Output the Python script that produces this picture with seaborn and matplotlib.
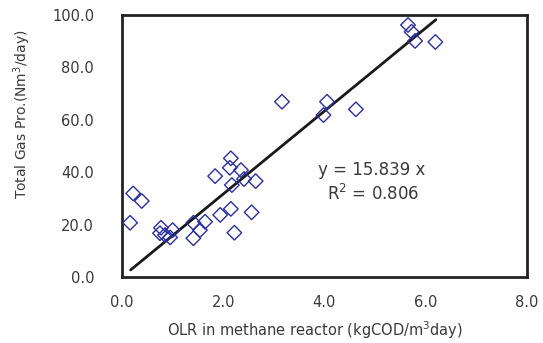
import numpy as np
import pandas as pd
import matplotlib
matplotlib.use("Agg")
import matplotlib.pyplot as plt
import seaborn as sns

olr = [5.65, 5.72, 5.79, 6.19, 3.16, 4.05, 3.98, 4.62, 2.15, 2.13, 2.35, 1.84,
       2.17, 2.41, 2.64, 0.22, 0.39, 0.16, 1.94, 2.15, 2.56, 2.22, 0.77, 0.75,
       0.85, 0.95, 1.00, 1.41, 1.64, 1.54, 1.41]
gas = [96.2, 93.6, 90.1, 89.7, 66.9, 66.9, 61.8, 64.0, 45.3, 41.7, 40.8, 38.5,
       35.1, 37.4, 36.6, 31.9, 29.0, 20.7, 23.7, 26.0, 24.7, 16.9, 18.8, 16.7,
       16.0, 15.1, 17.9, 20.7, 21.1, 17.9, 14.8]
slope = 15.839
fit_x = [0.17, 6.2]
fit_y = [slope * v for v in fit_x]
xticks = [0, 2, 4, 6, 8]
yticks = [0, 20, 40, 60, 80, 100]

sns.set_theme(style="white")
plt.rcParams['font.family'] = ['DejaVu Sans']
txtc = "#3a3a3a"

fig = plt.figure(figsize=(5.43, 3.43), dpi=100)
ax = fig.add_axes([0.2247, 0.1924, 0.7458, 0.7639])

df = pd.DataFrame({"x": olr, "y": gas})
sns.scatterplot(data=df, x="x", y="y", ax=ax, marker="D", s=55,
                facecolor="none", edgecolor="#2b2f9c", linewidth=1.0, zorder=3)
sns.lineplot(x=fit_x, y=fit_y, ax=ax, color="#1a1a1a", linewidth=2.0, zorder=2)

ax.set_xlim(0, 8)
ax.set_ylim(0, 100)
ax.set_xticks(xticks)
ax.set_yticks(yticks)
ax.set_xticklabels([f"{v:.1f}" for v in xticks], color=txtc, fontsize=10.5)
ax.set_yticklabels([f"{v:.1f}" for v in yticks], color=txtc, fontsize=10.5)
ax.tick_params(axis="x", direction="in", length=5, width=1.2, color="#333333", pad=13)
ax.tick_params(axis="y", length=0, pad=20)
for s in ax.spines.values():
    s.set_linewidth(2.0)
    s.set_color("#222222")

ax.set_xlabel("OLR in methane reactor (kgCOD/m$^3$day)", color=txtc, fontsize=10.5)
ax.set_ylabel("Total Gas Pro.(Nm$^3$/day)", color=txtc, fontsize=10)
ax.xaxis.set_label_coords(0.477, -0.16)
ax.yaxis.set_label_coords(-0.22, 0.62)

ax.text(4.93, 40.8, "y = 15.839 x", ha="center", va="center", color=txtc, fontsize=12)
ax.text(4.95, 31.6, "R$^2$ = 0.806", ha="center", va="center", color=txtc, fontsize=12)

fig.savefig("out.png", dpi=100)
